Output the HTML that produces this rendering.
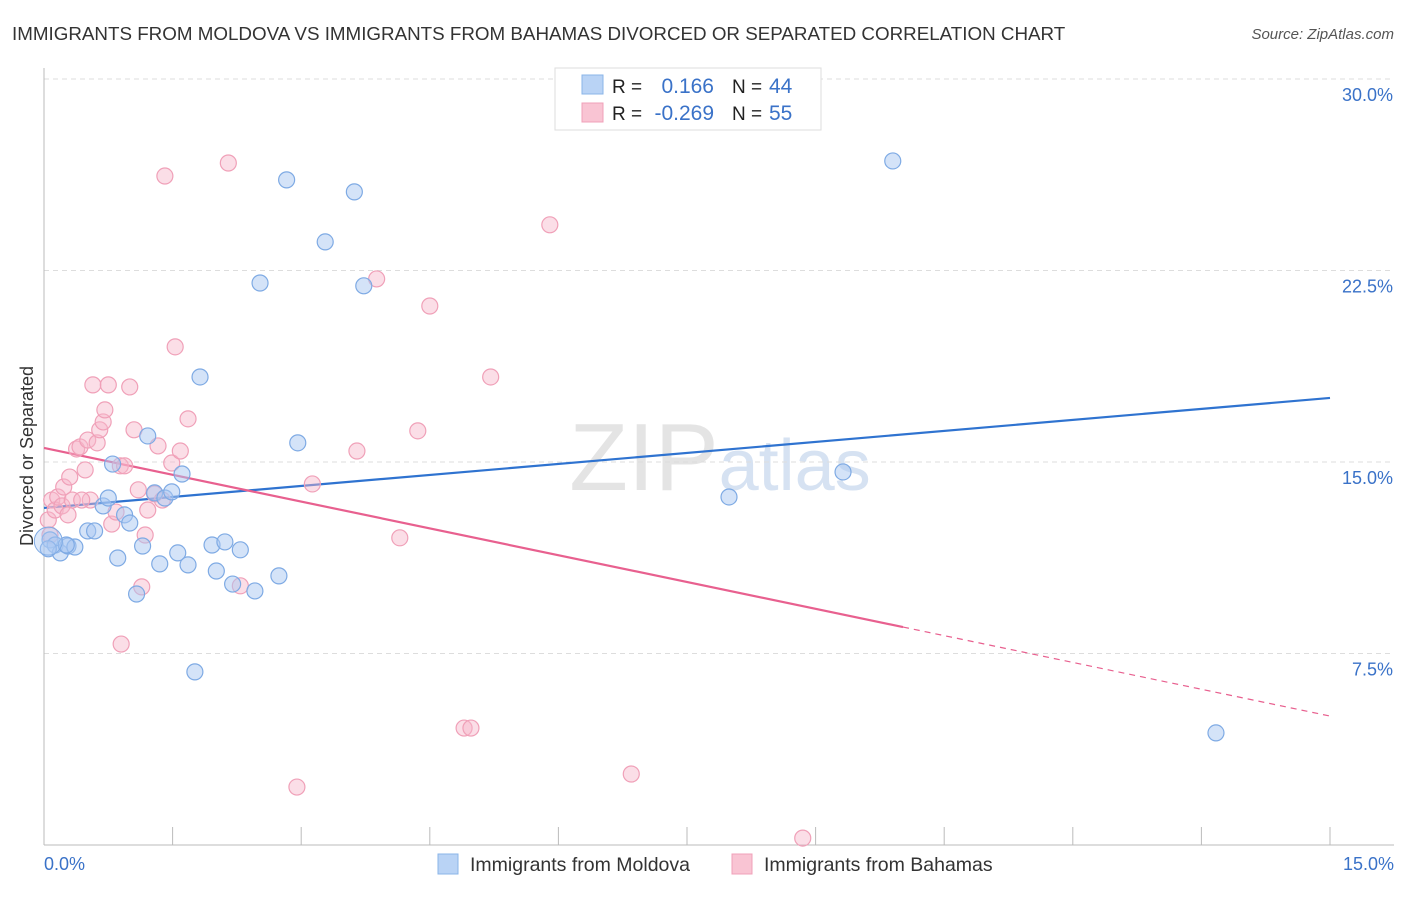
<!DOCTYPE html>
<html><head><meta charset="utf-8"><style>
body{margin:0;background:#fff;font-family:"Liberation Sans",sans-serif;}
svg text{font-family:"Liberation Sans",sans-serif;}
</style></head><body>
<svg id="chart" width="1406" height="892" xmlns="http://www.w3.org/2000/svg">
<text x="12" y="40" font-size="18.8" fill="#333">IMMIGRANTS FROM MOLDOVA VS IMMIGRANTS FROM BAHAMAS DIVORCED OR SEPARATED CORRELATION CHART</text>
<text x="1394" y="39" font-size="15" fill="#555" text-anchor="end" font-style="italic">Source: ZipAtlas.com</text>
<text x="720" y="490" font-size="96" fill="#e4e4e4" text-anchor="middle" font-family="Liberation Serif">ZIP<tspan fill="#d6e2f2" font-family="Liberation Sans" font-size="72">atlas</tspan></text>
<g id="grid"></g>
<g id="axes"></g>
<g id="lines"></g>
<g id="pts"></g>
<text transform="translate(33,456) rotate(-90)" font-size="18" fill="#333" text-anchor="middle">Divorced or Separated</text>
<g>
<rect x="555" y="68" width="266" height="62" fill="#fff" stroke="#ddd"/>
<rect x="582" y="75" width="21" height="19" fill="#b9d3f5" stroke="#8ab4e8"/>
<rect x="582" y="103" width="21" height="19" fill="#f9c4d3" stroke="#f0a0b8"/>
<text x="612" y="93" font-size="19" fill="#222">R =</text>
<text x="714" y="93" font-size="21" fill="#3a72c8" text-anchor="end">0.166</text>
<text x="732" y="93" font-size="19" fill="#222">N =</text>
<text x="769" y="93" font-size="21" fill="#3a72c8">44</text>
<text x="612" y="120" font-size="19" fill="#222">R =</text>
<text x="714" y="120" font-size="21" fill="#3a72c8" text-anchor="end">-0.269</text>
<text x="732" y="120" font-size="19" fill="#222">N =</text>
<text x="769" y="120" font-size="21" fill="#3a72c8">55</text>
</g>
<g>
<rect x="438" y="854" width="20" height="20" fill="#b9d3f5" stroke="#8ab4e8"/>
<text x="470" y="871" font-size="19.5" fill="#333">Immigrants from Moldova</text>
<rect x="732" y="854" width="20" height="20" fill="#f9c4d3" stroke="#f0a0b8"/>
<text x="764" y="871" font-size="19.5" fill="#333">Immigrants from Bahamas</text>
</g>
</svg>
<script>
const yTicks=[7.5,15,22.5,30];
const yTickLabels=["7.5%","15.0%","22.5%","30.0%"];
const xTickVals=[0,1.5,3,4.5,6,7.5,9,10.5,12,13.5,15];
const blueX=[0.07,0.13,0.19,0.28,0.36,0.51,0.59,0.69,0.75,0.80,0.86,0.94,1.00,1.08,1.15,1.21,1.29,1.35,1.41,1.49,1.56,1.61,1.68,1.82,1.76,1.96,2.01,2.11,2.20,2.29,2.46,2.52,2.74,2.83,2.96,3.28,3.62,3.73,7.99,9.32,9.90,13.67,0.26,0.05];
const blueY=[11.95,11.75,11.44,11.71,11.67,12.30,12.30,13.28,13.59,14.92,11.24,12.93,12.61,9.83,11.71,16.02,13.79,11.01,13.59,13.83,11.44,14.53,10.97,18.33,6.78,11.75,10.73,11.87,10.22,11.56,9.95,22.01,10.54,26.05,15.75,23.62,25.58,21.90,13.63,14.61,26.79,4.39,11.75,11.6];
const pinkX=[0.05,0.09,0.13,0.16,0.21,0.23,0.28,0.30,0.33,0.38,0.42,0.48,0.51,0.54,0.57,0.62,0.65,0.69,0.71,0.75,0.79,0.84,0.89,0.94,1.00,1.05,1.10,1.14,1.18,1.21,1.29,1.33,1.38,1.41,1.49,1.53,1.59,1.68,2.15,2.29,2.95,3.13,3.65,3.88,4.15,4.36,4.50,4.90,4.98,5.21,5.90,6.85,8.85,0.07,0.44,0.90];
const pinkY=[12.73,13.51,13.12,13.63,13.28,14.02,12.93,14.41,13.51,15.51,15.59,14.69,15.86,13.51,18.02,15.75,16.26,16.57,17.04,18.02,12.57,13.04,14.85,14.85,17.94,16.26,13.91,10.11,12.14,13.12,13.75,15.63,13.51,26.20,14.96,19.51,15.43,16.69,26.71,10.15,2.27,14.14,15.43,22.17,12.03,16.22,21.11,4.58,4.58,18.33,24.29,2.78,0.27,12.14,13.51,7.87];
const blueTrend=[13.20,17.51];
const pinkTrend=[15.55,5.05];
const pinkSolidEnd=10.02;

const NS="http://www.w3.org/2000/svg";
const X=v=>44+v*(1286/15);
const Y=v=>845-v*(191.5/7.5);
function mk(tag,attrs,parent){const e=document.createElementNS(NS,tag);for(const k in attrs)e.setAttribute(k,attrs[k]);document.getElementById(parent).appendChild(e);return e;}
yTicks.forEach((t,i)=>{
  const l=mk('line',{x1:44,x2:1394,y1:Y(t),y2:Y(t),stroke:'#ddd','stroke-dasharray':'5,4'},'grid');
  
  
  const tx=mk('text',{x:1393,y:Y(t)+22,'font-size':18,fill:'#3a72c8','text-anchor':'end'},'grid');
  tx.textContent=yTickLabels[i];
  
  
});
const ax=mk('line',{x1:44,x2:44,y1:68,y2:845,stroke:'#bbb'},'axes');


const bx=mk('line',{x1:44,x2:1394,y1:845,y2:845,stroke:'#bbb'},'axes');


xTickVals.forEach(v=>{
  const t=mk('line',{x1:X(v),x2:X(v),y1:827,y2:845,stroke:'#bbb'},'axes');
  
  
});
const xl0=mk('text',{x:44,y:870,'font-size':18,fill:'#3a72c8'},'axes');xl0.textContent='0.0%';


const xl1=mk('text',{x:1394,y:870,'font-size':18,fill:'#3a72c8','text-anchor':'end'},'axes');xl1.textContent='15.0%';



function pts(xs,ys,fill,stroke,name){xs.forEach((x,i)=>{
  const c=mk('circle',{cx:X(x),cy:Y(ys[i]),r:8,fill:fill,stroke:stroke,'stroke-width':1.2},'pts');
  
  
});}
pts(pinkX,pinkY,'rgba(246,182,202,0.45)','#f0a0b8','bahamas-point');
pts(blueX,blueY,'rgba(170,200,242,0.5)','#7eaae4','moldova-point');
const big=mk('circle',{cx:X(0.05),cy:Y(11.9),r:14,fill:'rgba(170,200,242,0.4)',stroke:'#7eaae4'},'pts');



const bl=mk('line',{x1:X(0),y1:Y(blueTrend[0]),x2:X(15),y2:Y(blueTrend[1]),stroke:'#2f73d0','stroke-width':2.2},'lines');


const pAt=v=>pinkTrend[0]+(pinkTrend[1]-pinkTrend[0])*v/15;
const pl=mk('line',{x1:X(0),y1:Y(pinkTrend[0]),x2:X(pinkSolidEnd),y2:Y(pAt(pinkSolidEnd)),stroke:'#e8608f','stroke-width':2.2},'lines');


const pd=mk('line',{x1:X(pinkSolidEnd),y1:Y(pAt(pinkSolidEnd)),x2:X(15),y2:Y(pinkTrend[1]),stroke:'#e8608f','stroke-width':1.2,'stroke-dasharray':'6,5'},'lines');


</script>
</body></html>
